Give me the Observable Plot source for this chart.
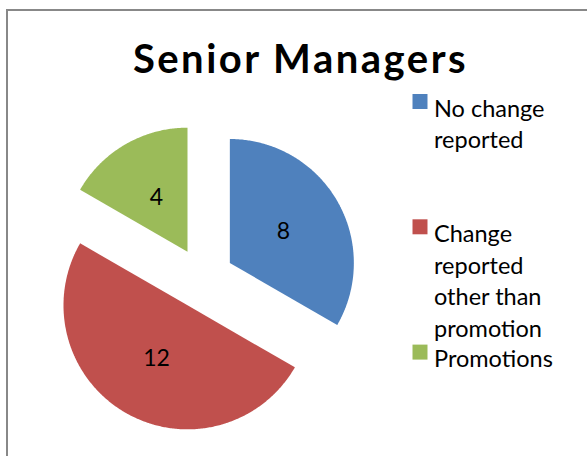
<!DOCTYPE html>
<html><head><meta charset="utf-8">
<script src="https://cdn.jsdelivr.net/npm/d3@7"></script>
<script src="https://cdn.jsdelivr.net/npm/@observablehq/plot@0.6"></script>
<style>
html,body{margin:0;padding:0;background:#fff;overflow:hidden}
#wrap{position:relative;width:587px;height:456px}
#border{position:absolute;left:6px;top:9px;width:620px;height:500px;border:2px solid #888;box-sizing:border-box}
#chart{position:absolute;left:0;top:0}
</style></head><body><div id="wrap"><div id="border"></div><div id="chart"></div></div>
<script>
const title = "Senior Managers";
const categories = ["No change reported", "Change reported other than promotion", "Promotions"];
const values = [8, 12, 4];
const legendLines = [["No change", "reported"], ["Change", "reported", "other than", "promotion"], ["Promotions"]];
const colors = ["#4F81BD", "#C0504D", "#9BBB59"];

const W = 587, H = 456;
const cx = 202.5, cy = 278, R = 124, explode = 31;
const legendX = 419.5, legendTop = 93.5, legendStep = 125.3;

const pt = (x0, y0, r, a) => [x0 + r * Math.sin(a), y0 - r * Math.cos(a)];
const arcs = d3.pie().sort(null).value(d => d.value)(categories.map((c, i) => ({category: c, value: values[i]})));
const slices = arcs.map(a => {
  const mid = (a.startAngle + a.endAngle) / 2;
  const [ox, oy] = pt(cx, cy, explode, mid);
  const ring = [[ox, oy]];
  const n = Math.ceil((a.endAngle - a.startAngle) / 0.01);
  for (let k = 0; k <= n; k++) ring.push(pt(ox, oy, R, a.startAngle + (a.endAngle - a.startAngle) * k / n));
  ring.push([ox, oy]);
  const [lx, ly] = pt(ox, oy, R * 0.5, mid);
  return {type: "Feature", properties: {category: a.data.category, value: a.data.value, lx, ly},
    geometry: {type: "Polygon", coordinates: [ring]}};
});
const legend = categories.map((c, i) => ({category: c, text: legendLines[i].join("\n"),
  x: legendX, y: legendTop + i * legendStep}));

const color = {domain: categories, range: colors};
const chart = Plot.plot({
  width: W, height: H, margin: 0,
  projection: d3.geoIdentity(),
  color,
  style: {fontFamily: "Lato, sans-serif", background: "transparent"},
  marks: [
    Plot.geo(slices, {fill: d => d.properties.category}),
    Plot.text(slices, {x: d => d.properties.lx, y: d => d.properties.ly, text: d => String(d.properties.value),
      fontSize: 23, fill: "#000"}),
    Plot.text([title], {x: 300, y: 60, text: d => d, fontSize: 40, fontWeight: "bold", fill: "#000",
      style: "letter-spacing:2.5px"}),
    Plot.dot(legend, {x: d => d.x, y: d => d.y + 7.5, symbol: "square", r: 8.46, fill: d => d.category, stroke: null}),
    Plot.text(legend, {x: d => d.x + 14, y: d => d.y, text: "text", textAnchor: "start", lineAnchor: "top",
      lineHeight: 1.35, fontSize: 23.5, fill: "#000"})
  ]
});
chart.querySelectorAll("text").forEach(t => { if (t.textContent === title) t.style.letterSpacing = "2.5px"; });
document.getElementById("chart").appendChild(chart);
</script></body></html>
